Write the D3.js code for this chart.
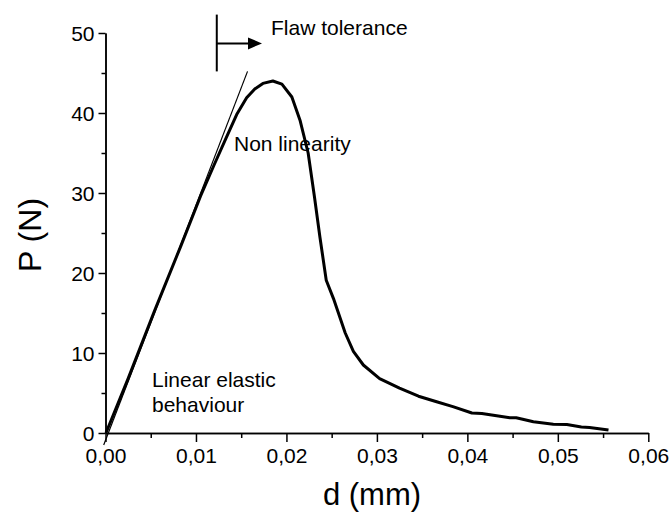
<!DOCTYPE html>
<html lang="en">
<head>
    <meta charset="UTF-8">
    <title>Load - displacement</title>
    <script src="https://d3js.org/d3.v7.min.js"></script>
    <style>
        body { margin: 0; background: #fff; }
        svg text { font-family: Arial, "Liberation Sans", Helvetica, sans-serif; fill: #000; }
        .axis path, .axis line { stroke: #000; stroke-width: 1.5px; }
        .axis text { font-size: 21px; font-family: Arial, "Liberation Sans", Helvetica, sans-serif; }
    </style>
</head>
<body>
<svg id="canvas" width="672" height="513"></svg>
<script>
    // measured curve, d in mm, P in N
    const dispMm = [0.00005, 0.0025, 0.0054, 0.0083, 0.0105, 0.0120, 0.0133, 0.0145, 0.0156, 0.0165,
        0.0174, 0.0185, 0.0195, 0.0206, 0.0215, 0.0224, 0.0231, 0.0237, 0.0244, 0.0252,
        0.0265, 0.0274, 0.0285, 0.0303, 0.0325, 0.0346, 0.0366, 0.0384, 0.0405, 0.0416,
        0.0436, 0.0447, 0.0454, 0.0473, 0.0495, 0.0510, 0.0526, 0.0535, 0.0556];
    const loadN = [0, 6.8, 15.2, 23.3, 29.6, 33.5, 36.8, 39.8, 41.9, 43.0,
        43.7, 44.0, 43.6, 42.0, 39.1, 35.0, 29.5, 24.5, 19.1, 16.8,
        12.5, 10.2, 8.5, 6.8, 5.6, 4.6, 3.9, 3.3, 2.5, 2.45,
        2.1, 1.9, 1.9, 1.4, 1.1, 1.05, 0.75, 0.7, 0.37];

    // linear elastic tangent
    const tangentD = [-0.0002, 0.0157];
    const tangentP = [-1.5, 45.2];

    // flaw tolerance marker
    const flawD = 0.0123;
    const flawP = [45.2, 52.3];
    const arrowP = 48.7;
    const arrowEndD = 0.0173;

    const xTicks = [0, 0.01, 0.02, 0.03, 0.04, 0.05, 0.06];
    const xMinor = [0.005, 0.015, 0.025, 0.035, 0.045, 0.055];
    const yTicks = [0, 10, 20, 30, 40, 50];
    const yMinor = [5, 15, 25, 35, 45];

    let svg = d3.select('svg');

    const x = d3.scaleLinear().domain([0, 0.06]).range([105.5, 648.3]);
    const y = d3.scaleLinear().domain([0, 50]).range([433, 33]);

    const fmt = d3.formatLocale({decimal: ",", thousands: ".", grouping: [3], currency: ["", ""]}).format(".2f");

    // x axis
    svg.append('g').attr('class', 'axis').attr('transform', 'translate(0,433)')
        .call(d3.axisBottom(x).tickValues(xMinor).tickSize(5).tickSizeOuter(0).tickFormat(''));
    let gx = svg.append('g').attr('class', 'axis').attr('transform', 'translate(0,433)')
        .call(d3.axisBottom(x).tickValues(xTicks).tickSize(9).tickSizeOuter(0).tickFormat(fmt));
    gx.selectAll('text').attr('dy', 0).attr('y', 30);

    // y axis
    svg.append('g').attr('class', 'axis').attr('transform', 'translate(105.5,0)')
        .call(d3.axisLeft(y).tickValues(yMinor).tickSize(4).tickSizeOuter(0).tickFormat(''));
    let gy = svg.append('g').attr('class', 'axis').attr('transform', 'translate(105.5,0)')
        .call(d3.axisLeft(y).tickValues(yTicks).tickSize(7).tickSizeOuter(0));
    gy.selectAll('text').attr('x', -11).attr('dy', '0.36em');
    svg.selectAll('.axis').attr('font-family', 'Arial, "Liberation Sans", sans-serif').attr('font-size', 21);

    // axis titles
    svg.append('text').attr('x', 372).attr('y', 505).attr('text-anchor', 'middle')
        .style('font-size', '31px').text('d (mm)');
    svg.append('text').attr('transform', 'translate(41,235) rotate(-90)').attr('text-anchor', 'middle')
        .style('font-size', '32px').text('P (N)');

    // tangent line
    svg.append('line')
        .attr('x1', x(tangentD[0])).attr('y1', y(tangentP[0]))
        .attr('x2', x(tangentD[1])).attr('y2', y(tangentP[1]))
        .attr('stroke', '#000').attr('stroke-width', 1.2);

    // curve
    const pts = dispMm.map((d, i) => [d, loadN[i]]);
    const line = d3.line().x(d => x(d[0])).y(d => y(d[1]));
    svg.append('path').datum(pts)
        .attr('d', line)
        .attr('fill', 'none')
        .attr('stroke', '#000')
        .attr('stroke-width', 3)
        .attr('stroke-linejoin', 'round');

    // flaw tolerance marker + arrow
    svg.append('line')
        .attr('x1', x(flawD)).attr('x2', x(flawD))
        .attr('y1', y(flawP[0])).attr('y2', y(flawP[1]))
        .attr('stroke', '#000').attr('stroke-width', 2);
    svg.append('line')
        .attr('x1', x(flawD)).attr('x2', x(arrowEndD) - 12)
        .attr('y1', y(arrowP)).attr('y2', y(arrowP))
        .attr('stroke', '#000').attr('stroke-width', 2);
    let ax = x(arrowEndD), ay = y(arrowP);
    svg.append('path')
        .attr('d', `M${ax},${ay} L${ax - 14},${ay - 6} L${ax - 14},${ay + 6} Z`)
        .attr('fill', '#000');

    // labels
    svg.append('text').attr('x', 271).attr('y', 35).style('font-size', '21px').text('Flaw tolerance');
    svg.append('text').attr('x', 234).attr('y', 151).style('font-size', '21px').text('Non linearity');
    svg.append('text').attr('x', 152).attr('y', 387).style('font-size', '21px').text('Linear elastic');
    svg.append('text').attr('x', 152).attr('y', 412).style('font-size', '21px').text('behaviour');
</script>
</body>
</html>
